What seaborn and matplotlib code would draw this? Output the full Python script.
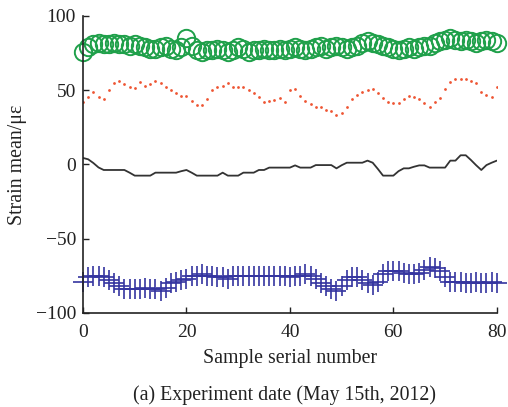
import numpy as np
import pandas as pd
import matplotlib
matplotlib.use("Agg")
import matplotlib.pyplot as plt
import seaborn as sns

sample = list(range(81))

green = [76, 79, 81, 82, 81, 81, 82, 81, 81, 80, 81, 80, 79, 78, 78, 79, 80, 78, 77, 79,
         85, 80, 77, 76, 77, 77, 78, 77, 76, 77, 79, 78, 76, 77, 77, 78, 77, 77, 78, 77,
         78, 79, 78, 77, 78, 79, 80, 78, 79, 80, 79, 78, 79, 80, 82, 83, 82, 81, 80, 79,
         78, 77, 78, 79, 78, 79, 80, 80, 82, 83, 84, 85, 84, 83, 84, 83, 82, 83, 84, 83, 82]

red = [42.3, 45.7, 48.5, 45.7, 44, 50, 55, 56.5, 54, 52, 51.5, 55.5, 53, 54, 56, 55, 52, 50, 48, 46,
       46, 43, 40, 40, 44, 50, 52, 53, 55, 52, 52, 52, 50, 48, 45.7, 42.3, 43, 43.5, 44.6, 42,
       50, 51, 46, 43, 41, 39, 38.9, 37, 36, 33.3, 34.5, 39, 44, 47, 49, 50, 50.5, 48, 45, 42,
       41.2, 41.2, 44, 46, 45.5, 44, 41.2, 39, 42, 44.6, 51, 55.8, 57.4, 57.4, 57.4, 56, 55, 49, 46.8, 45.7,
       52.5]

black = [4.4, 3.5, 1, -2, -3.7, -3.7, -3.7, -3.7, -3.7, -5.5, -7.5, -7.5, -7.5, -7.5, -5.5, -5.5, -5.5, -5.5, -5.5, -4.5,
         -3.7, -5.5, -7.5, -7.5, -7.5, -7.5, -7.5, -5.5, -7.5, -7.5, -7.5, -5.5, -5.5, -5.5, -3.7, -3.7, -2.1, -2.1, -2.1, -2.1,
         -2.1, -0.6, -2.1, -2.1, -2.1, -0.4, -0.4, -0.4, -0.4, -2.6, -0.5, 1.2, 1.2, 1.2, 1.2, 2.6, 1.2, -3, -7.5, -7.5,
         -7.5, -4.5, -2.6, -2.6, -1.5, -0.6, -0.6, -2.1, -2.1, -2.1, -2.1, 2.6, 2.6, 6.2, 6.2, 3, -0.5, -3.7, -0.4, 1.2,
         2.6]

blue = [-79, -76, -75, -75, -76, -78, -80, -82, -84, -84, -84, -84, -83, -84, -84, -85, -83, -80, -79, -78,
        -77, -75, -75, -74, -75, -75, -76, -76, -77, -75, -75, -75, -75, -75, -75, -75, -75, -75, -75, -75,
        -76, -75, -75, -74, -75, -77, -80, -82, -84, -85, -82, -78, -76, -76, -78, -80, -81, -79, -74, -72,
        -72, -72, -73, -74, -74, -73, -71, -69, -70, -72, -76, -79, -79, -79, -80, -80, -79, -80, -80, -79,
        -80]

xticks = [0, 20, 40, 60, 80]
yticks = [-100, -50, 0, 50, 100]

df = pd.DataFrame({"x": sample, "green": green, "red": red, "black": black, "blue": blue})

sns.set_style("ticks")
plt.rcParams["font.family"] = ["Liberation Serif", "DejaVu Serif"]
plt.rcParams["xtick.direction"] = "in"
plt.rcParams["ytick.direction"] = "in"

fig = plt.figure(figsize=(5.08, 4.07), dpi=100)
ax = fig.add_axes([0.1634, 0.231, 0.8146, 0.7297])

sns.lineplot(data=df, x="x", y="green", ax=ax, linestyle="", marker="o", markersize=12.5,
             markerfacecolor="none", markeredgecolor="#1fa04a", markeredgewidth=1.4, clip_on=False)
sns.lineplot(data=df, x="x", y="red", ax=ax, linestyle="", marker="o", markersize=2.0,
             markerfacecolor="#ee5533", markeredgecolor="#ee5533", markeredgewidth=0)
sns.lineplot(data=df, x="x", y="black", ax=ax, color="#333333", linewidth=1.3)
sns.lineplot(data=df, x="x", y="blue", ax=ax, linestyle="", marker="+", markersize=15,
             markeredgecolor="#3535a0", markeredgewidth=1.2, clip_on=False)

ax.set_xlim(0, 80)
ax.set_ylim(-100, 100)
ax.set_xticks(xticks)
ax.set_yticks(yticks)
ax.set_yticklabels(["\u2212100", "\u221250", "0", "50", "100"])
ax.tick_params(axis="both", labelsize=14, length=4, width=1, colors="#222222")
ax.tick_params(axis="x", pad=8)
ax.tick_params(axis="y", pad=5)
for s in ["top", "right"]:
    ax.spines[s].set_visible(False)
for s in ["left", "bottom"]:
    ax.spines[s].set_linewidth(1.2)
    ax.spines[s].set_color("#222222")

ax.set_xlabel("Sample serial number", fontsize=14.3, color="#222222", labelpad=6)
ax.set_ylabel("Strain mean/\u03bc\u03b5", fontsize=14.3, color="#222222", labelpad=6)

fig.text(0.56, 0.029, "(a) Experiment date (May 15th, 2012)", ha="center", va="center",
         fontsize=14.3, color="#222222")

fig.savefig("out.png", dpi=100)
